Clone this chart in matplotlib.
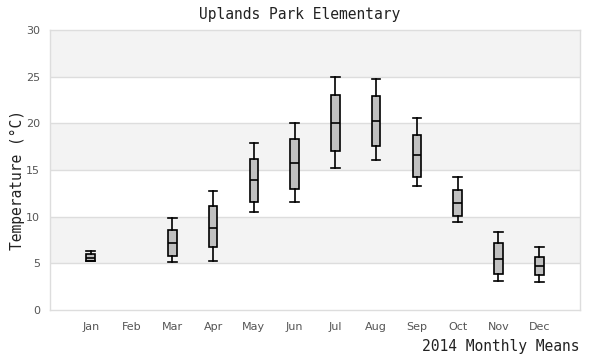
import numpy as np
import matplotlib.pyplot as plt

months = ["Jan", "Feb", "Mar", "Apr", "May", "Jun",
          "Jul", "Aug", "Sep", "Oct", "Nov", "Dec"]
# per-month stats (None = no data)
whislo = [5.2, None, 5.1, 5.3, 10.5, 11.6, 15.2, 16.1, 13.3, 9.4, 3.1, 3.0]
q1 = [5.25, None, 5.75, 6.7, 11.6, 13.0, 17.0, 17.6, 14.3, 10.1, 3.9, 3.7]
med = [5.6, None, 7.2, 8.8, 13.9, 15.7, 20.0, 20.2, 16.6, 11.5, 5.5, 4.7]
q3 = [5.95, None, 8.55, 11.1, 16.15, 18.3, 23.0, 22.9, 18.7, 12.9, 7.15, 5.65]
whishi = [6.3, None, 9.9, 12.7, 17.9, 20.0, 25.0, 24.7, 20.6, 14.2, 8.4, 6.7]

mono = "DejaVu Sans Mono"
grid_col = "#dddddd"

fig = plt.figure(figsize=(6, 3.6), dpi=100)
ax = fig.add_axes([50 / 600, 50 / 360, 530 / 600, 280 / 360])

# alternating horizontal bands
for lo in range(0, 30, 5):
    if (lo // 5) % 2 == 1:
        ax.axhspan(lo, lo + 5, color="#f3f3f3", zorder=0, lw=0)
for y in range(5, 30, 5):
    ax.axhline(y, color=grid_col, lw=1, zorder=1)

stats, pos = [], []
for i in range(len(months)):
    if med[i] is None:
        continue
    stats.append(dict(whislo=whislo[i], q1=q1[i], med=med[i], q3=q3[i],
                      whishi=whishi[i], fliers=[]))
    pos.append(i)

ax.bxp(stats, positions=pos, widths=0.21, patch_artist=True,
       showfliers=False, manage_ticks=False,
       boxprops=dict(facecolor="#c0c0c0", edgecolor="black", lw=1.2),
       medianprops=dict(color="black", lw=1.2),
       whiskerprops=dict(color="black", lw=1.2),
       capprops=dict(color="black", lw=1.2), capwidths=0.21, zorder=3)

ax.set_xlim(-1, 12)
ax.set_ylim(0, 30)
ax.set_xticks(range(len(months)))
ax.set_xticklabels(months)
ax.set_yticks(range(0, 31, 5))
ax.tick_params(length=0, labelsize=8, labelcolor="#555555")
ax.tick_params(axis="y", pad=7)
ax.tick_params(axis="x", pad=9)
for s in ax.spines.values():
    s.set_color(grid_col)
    s.set_linewidth(1)

fig.text(0.5, 1 - 15 / 360, "Uplands Park Elementary", family=mono,
         fontsize=10.5, ha="center", va="center", color="#222222")
fig.text(579 / 600, 1 - 347 / 360, "2014 Monthly Means", family=mono,
         fontsize=10.5, ha="right", va="center", color="#222222")
fig.text(17 / 600, 0.5, "Temperature (°C)", family=mono,
         fontsize=10.5, ha="center", va="center", rotation=90,
         color="#222222")

fig.savefig("out.png", dpi=100)
